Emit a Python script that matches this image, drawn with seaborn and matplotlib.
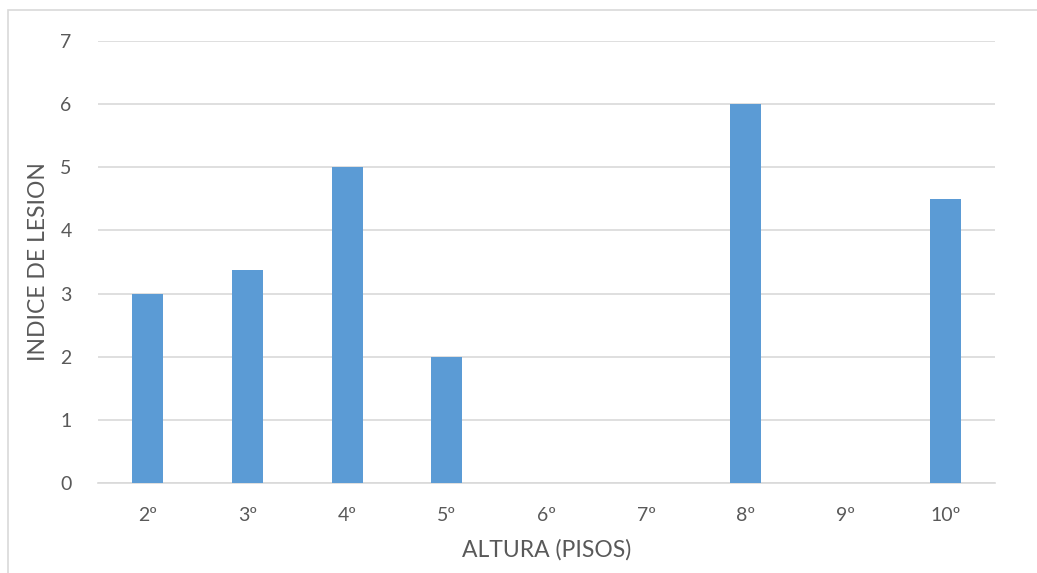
import matplotlib
matplotlib.use("Agg")
import matplotlib.pyplot as plt
from matplotlib.patches import Rectangle
import seaborn as sns
import pandas as pd

floors = ["2º", "3º", "4º", "5º", "6º", "7º", "8º", "9º", "10º"]
lesion_index = [3, 3.37, 5, 2, 0, 0, 6, 0, 4.5]
y_ticks = [0, 1, 2, 3, 4, 5, 6, 7]

sns.set_style("white")
plt.rcParams["font.family"] = ["Lato", "DejaVu Sans"]

text_color = "#595959"
grid_color = "#d9d9d9"
bar_color = "#5b9bd5"

df = pd.DataFrame({"floor": floors, "value": lesion_index})

fig = plt.figure(figsize=(10.37, 5.73), dpi=100)
ax = fig.add_axes([0.0945, 0.157, 0.865, 0.7714])

sns.barplot(data=df, x="floor", y="value", color=bar_color, width=0.31,
            saturation=1, ax=ax, zorder=3, linewidth=0, edgecolor=bar_color)

ax.set_ylim(0, 7)
ax.set_yticks(y_ticks)
ax.set_xlim(-0.5, len(floors) - 0.5)
ax.yaxis.grid(True, color=grid_color, linewidth=1.2, zorder=0)
ax.set_axisbelow(True)
for side in ["top", "right", "left"]:
    ax.spines[side].set_visible(False)
ax.spines["bottom"].set_color(grid_color)
ax.spines["bottom"].set_linewidth(1.2)

ax.tick_params(axis="both", length=0, labelsize=14, labelcolor=text_color)
ax.tick_params(axis="y", pad=19)
ax.tick_params(axis="x", pad=17)

ax.set_xlabel("ALTURA (PISOS)", fontsize=16.5, color=text_color, labelpad=11)
ax.set_ylabel("INDICE DE LESION", fontsize=16.5, color=text_color, labelpad=8)

# chart area frame
fig.patches.append(Rectangle((8 / 1037, -0.05), 1.1, 1 - 10 / 573 + 0.05,
                             transform=fig.transFigure, fill=False,
                             edgecolor=grid_color, linewidth=1.2))

fig.savefig("out.png", dpi=100)
